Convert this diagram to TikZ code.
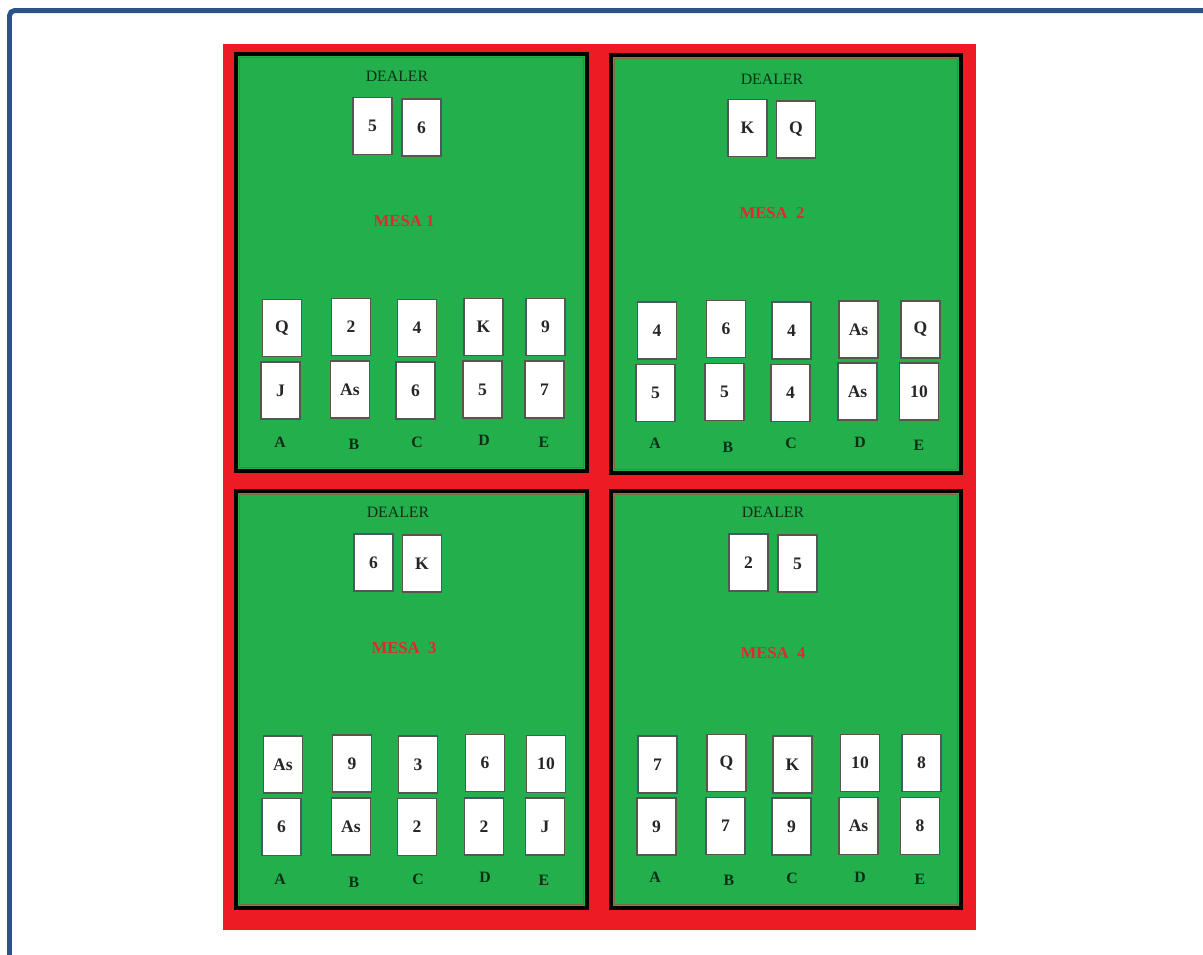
\documentclass[tikz,border=0pt]{standalone}
\usepackage{fontspec}
\setmainfont{Liberation Serif}
\usepackage{tikz}
\definecolor{frameblue}{HTML}{2A5386}
\definecolor{feltred}{HTML}{ED1C24}
\definecolor{feltgreen}{HTML}{23B04C}
\definecolor{feltrim}{HTML}{7A6A3C}
\definecolor{mesared}{HTML}{DE2A2E}
\definecolor{dealerink}{HTML}{0B2E16}
\definecolor{cardedge}{HTML}{555555}
\tikzset{
  tablebox/.style={draw=black,line width=2.2pt,fill=feltgreen},
  tablerim/.style={draw=feltrim,line width=0.7pt},
  cardbox/.style={rectangle,draw=cardedge,line width=0.8pt,fill=white,
    minimum width=0.78cm,minimum height=1.14cm,inner sep=0pt,
    font=\fontsize{10}{12}\selectfont\bfseries,text=black!85},
  dealerlabel/.style={font=\fontsize{9}{11}\selectfont,text=dealerink,inner sep=0pt},
  mesalabel/.style={font=\fontsize{9.5}{11}\selectfont\bfseries,text=mesared,inner sep=0pt},
  seatlabel/.style={font=\fontsize{9}{11}\selectfont\bfseries,text=dealerink,inner sep=0pt},
}

\begin{document}
\begin{tikzpicture}[x=0.02cm, y=-0.02cm]
  \useasboundingbox (0,0) rectangle (1203,954);
  \clip (0,0) rectangle (1203,954);
  % outer frame and red cloth
  \draw[frameblue,line width=0.1cm,rounded corners=3pt] (9.5,10.5) rectangle (1240,990);
  \fill[feltred] (223,44) rectangle (976,930);

  % tables
  \draw[tablebox] (236,54) rectangle (587,471);
  \draw[tablebox] (611,55) rectangle (961,473);
  \draw[tablebox] (236,491) rectangle (587,908);
  \draw[tablebox] (611,491) rectangle (961,908);
  \draw[tablerim] (239.5,57.5) rectangle (583.5,467.5);
  \draw[tablerim] (614.5,58.5) rectangle (957.5,469.5);
  \draw[tablerim] (239.5,494.5) rectangle (583.5,904.5);
  \draw[tablerim] (614.5,494.5) rectangle (957.5,904.5);

  % MESA 1
  \node[dealerlabel] (t1dealer) at (397,76) {DEALER};
  \node[cardbox] (t1d1) at (372.5,126) {5};
  \node[cardbox] (t1d2) at (421.5,127.5) {6};
  \node[mesalabel] (t1mesa) at (404,221) {MESA 1};
  \node[cardbox] (t1a1) at (282,328) {Q};
  \node[cardbox] (t1a2) at (280.5,390.5) {J};
  \node[cardbox] (t1b1) at (351,327) {2};
  \node[cardbox] (t1b2) at (350,389.5) {As};
  \node[cardbox] (t1c1) at (417,328) {4};
  \node[cardbox] (t1c2) at (415.5,390.5) {6};
  \node[cardbox] (t1e1) at (483.5,327) {K};
  \node[cardbox] (t1e2) at (482.5,389.5) {5};
  \node[cardbox] (t1f1) at (545.5,327) {9};
  \node[cardbox] (t1f2) at (544.5,389.5) {7};
  \node[seatlabel] (t1sa) at (280,442) {A};
  \node[seatlabel] (t1sb) at (354,444) {B};
  \node[seatlabel] (t1sc) at (417,442) {C};
  \node[seatlabel] (t1sd) at (484,440) {D};
  \node[seatlabel] (t1se) at (544,442) {E};

  % MESA 2
  \node[dealerlabel] (t2dealer) at (772,79) {DEALER};
  \node[cardbox] (t2d1) at (747.5,128) {K};
  \node[cardbox] (t2d2) at (796,129.5) {Q};
  \node[mesalabel] (t2mesa) at (772,213) {MESA\ \ 2};
  \node[cardbox] (t2a1) at (657,330.5) {4};
  \node[cardbox] (t2a2) at (655.5,393) {5};
  \node[cardbox] (t2b1) at (726,329) {6};
  \node[cardbox] (t2b2) at (724.5,392) {5};
  \node[cardbox] (t2c1) at (791.5,330.5) {4};
  \node[cardbox] (t2c2) at (790.5,393) {4};
  \node[cardbox] (t2e1) at (858.5,329.5) {As};
  \node[cardbox] (t2e2) at (857.5,391.5) {As};
  \node[cardbox] (t2f1) at (920.5,329.5) {Q};
  \node[cardbox] (t2f2) at (919,391.5) {10};
  \node[seatlabel] (t2sa) at (655,443) {A};
  \node[seatlabel] (t2sb) at (728,447) {B};
  \node[seatlabel] (t2sc) at (791,443) {C};
  \node[seatlabel] (t2sd) at (860,442) {D};
  \node[seatlabel] (t2se) at (919,445) {E};

  % MESA 3
  \node[dealerlabel] (t3dealer) at (398,512) {DEALER};
  \node[cardbox] (t3d1) at (373.5,562.5) {6};
  \node[cardbox] (t3d2) at (422,563.5) {K};
  \node[mesalabel] (t3mesa) at (404,648) {MESA\ \ 3};
  \node[cardbox] (t3a1) at (283,764.5) {As};
  \node[cardbox] (t3a2) at (281.5,827) {6};
  \node[cardbox] (t3b1) at (352,763.5) {9};
  \node[cardbox] (t3b2) at (351,826.5) {As};
  \node[cardbox] (t3c1) at (418,764.5) {3};
  \node[cardbox] (t3c2) at (417,827) {2};
  \node[cardbox] (t3e1) at (485,763) {6};
  \node[cardbox] (t3e2) at (484,826.5) {2};
  \node[cardbox] (t3f1) at (546,764) {10};
  \node[cardbox] (t3f2) at (545,826.5) {J};
  \node[seatlabel] (t3sa) at (280,879) {A};
  \node[seatlabel] (t3sb) at (354,882) {B};
  \node[seatlabel] (t3sc) at (418,879) {C};
  \node[seatlabel] (t3sd) at (485,877) {D};
  \node[seatlabel] (t3se) at (544,880) {E};

  % MESA 4
  \node[dealerlabel] (t4dealer) at (773,512) {DEALER};
  \node[cardbox] (t4d1) at (748.5,562.5) {2};
  \node[cardbox] (t4d2) at (797.5,563.5) {5};
  \node[mesalabel] (t4mesa) at (773,653) {MESA\ \ 4};
  \node[cardbox] (t4a1) at (657.5,764.5) {7};
  \node[cardbox] (t4a2) at (656.5,826.5) {9};
  \node[cardbox] (t4b1) at (726.5,763) {Q};
  \node[cardbox] (t4b2) at (725.5,826) {7};
  \node[cardbox] (t4c1) at (792.5,764.5) {K};
  \node[cardbox] (t4c2) at (791.5,826.5) {9};
  \node[cardbox] (t4e1) at (860,763) {10};
  \node[cardbox] (t4e2) at (858.5,826) {As};
  \node[cardbox] (t4f1) at (921.5,763) {8};
  \node[cardbox] (t4f2) at (920,826) {8};
  \node[seatlabel] (t4sa) at (655,877) {A};
  \node[seatlabel] (t4sb) at (729,880) {B};
  \node[seatlabel] (t4sc) at (792,878) {C};
  \node[seatlabel] (t4sd) at (860,877) {D};
  \node[seatlabel] (t4se) at (920,879) {E};
\end{tikzpicture}
\end{document}
